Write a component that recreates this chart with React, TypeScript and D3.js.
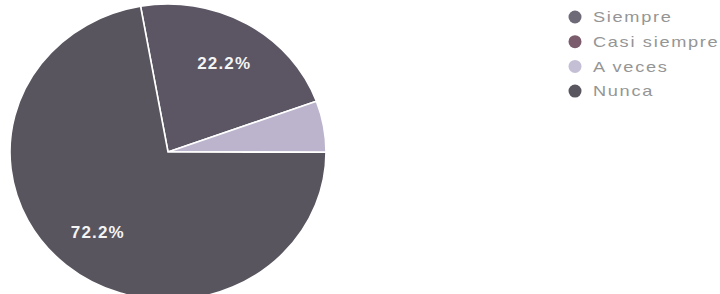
import React from "react";
import * as d3 from "d3";

const categories = ["Siempre", "Casi siempre", "A veces", "Nunca"];
const values = [0, 22.2, 5.6, 72.2];
const labels = ["", "22.2%", "", "72.2%"];
const sliceColors = ["#6d6876", "#5b5564", "#bcb4cc", "#59555f"];
const legendColors = ["#6f6a78", "#7a5c6c", "#c5bfd6", "#5a5660"];

export default function App() {
  const W = 720, H = 294;
  const cx = 168, cy = 152, rx = 158, ry = 148;
  const sy = ry / rx;
  const start = (-10 * Math.PI) / 180;
  const pie = d3.pie<number>().sort(null).value((d) => d).startAngle(start).endAngle(start + 2 * Math.PI);
  const arcs = pie(values);
  const arc = d3.arc<d3.PieArcDatum<number>>().innerRadius(0).outerRadius(rx);
  const labelArc = d3.arc<d3.PieArcDatum<number>>().innerRadius(rx * 0.7).outerRadius(rx * 0.7);
  return (
    <svg width={W} height={H} style={{ position: "absolute", left: 0, top: 0 }}>
      <rect width={W} height={H} fill="#ffffff" />
      <g transform={`translate(${cx},${cy}) scale(1,${sy})`}>
        {arcs.map((a, i) =>
          a.value > 0 ? (
            <path key={i} d={arc(a) || ""} fill={sliceColors[i]} stroke="#ffffff" strokeWidth={1.6} vectorEffect="non-scaling-stroke" />
          ) : null
        )}
      </g>
      {arcs.map((a, i) => {
        if (!labels[i]) return null;
        const [x, y] = labelArc.centroid(a);
        return (
          <text key={i} x={cx + x + 1} y={cy + y * sy + 1} textAnchor="middle" dominantBaseline="central"
            fill="#f4f4f4" fontFamily="Liberation Sans, Arial, sans-serif" fontWeight="bold" fontSize={17}
            letterSpacing={1.2}>
            {labels[i]}
          </text>
        );
      })}
      {categories.map((c, i) => (
        <g key={c} transform={`translate(575,${17 + i * 24.7})`}>
          <circle r={6.5} fill={legendColors[i]} />
          <text transform="translate(18,0) scale(1.3,1)" dominantBaseline="central" fill="#959595"
            fontFamily="Liberation Sans, Arial, sans-serif" fontSize={14} letterSpacing={1.3}>
            {c}
          </text>
        </g>
      ))}
    </svg>
  );
}
